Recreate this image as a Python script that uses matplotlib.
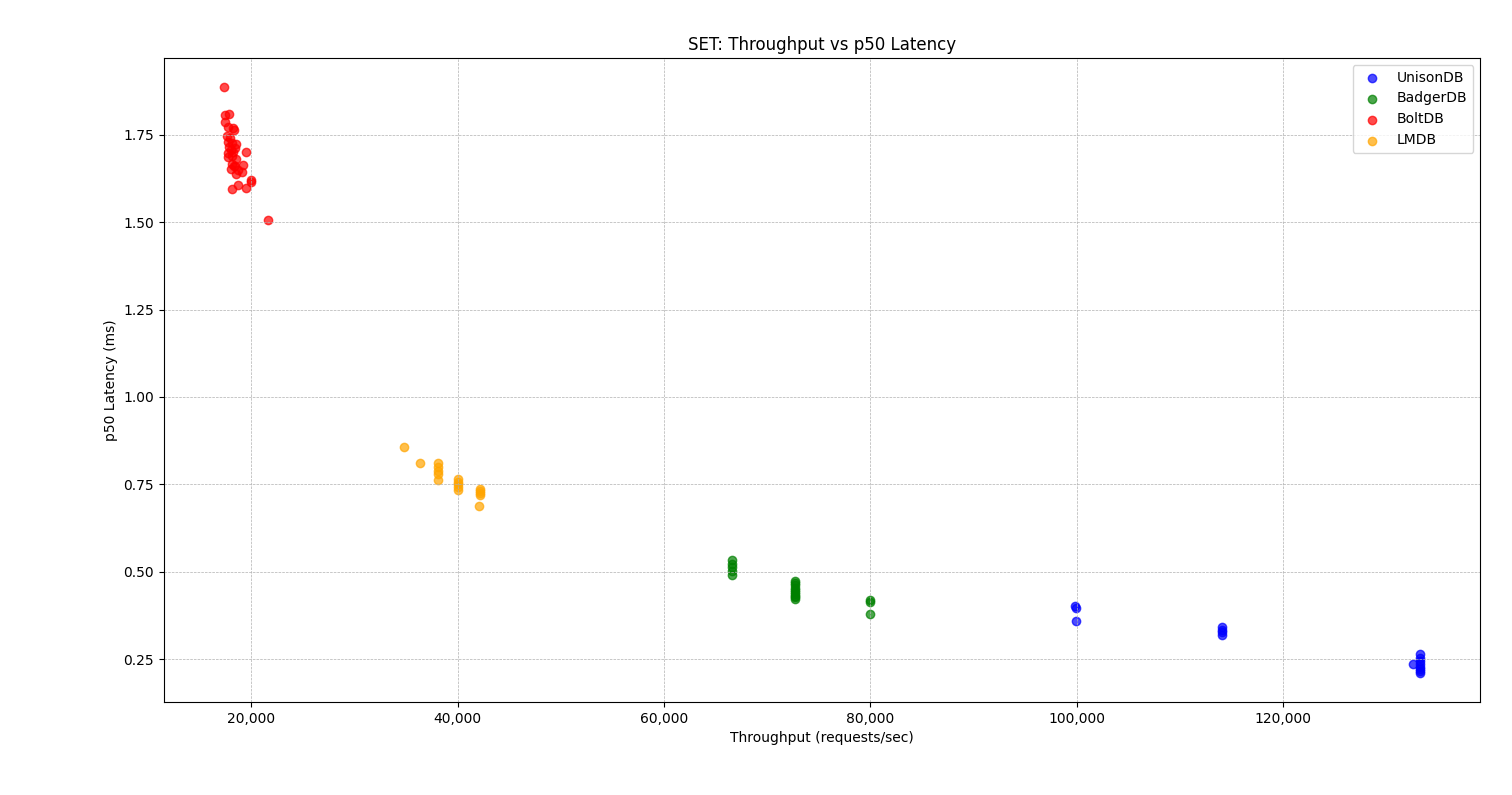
import matplotlib
matplotlib.use("Agg")
import matplotlib.pyplot as plt
from matplotlib.ticker import FuncFormatter

unison_x = [99780, 99930, 99880, 114050, 114050, 114050, 114050,
            133300, 133300, 133300, 133300, 133300, 133300, 133300, 133300, 132600]
unison_y = [0.404, 0.398, 0.359, 0.343, 0.335, 0.327, 0.320,
            0.266, 0.255, 0.245, 0.236, 0.228, 0.222, 0.217, 0.212, 0.236]

badger_x = [66580, 66580, 66580, 66580, 66580,
            72690, 72690, 72690, 72690, 72690, 72690, 72690, 72690, 72690, 72690,
            79990, 79990, 79990]
badger_y = [0.534, 0.524, 0.515, 0.502, 0.490,
            0.474, 0.468, 0.462, 0.455, 0.449, 0.443, 0.437, 0.432, 0.427, 0.423,
            0.421, 0.414, 0.381]

bolt_x = [17300, 17450, 17850, 17450, 17750, 18250, 18350, 17650, 17950, 17750,
          18150, 18550, 18450, 17850, 18050, 17750, 18250, 19450, 17750, 18150,
          18550, 18150, 18450, 19150, 18050, 18650, 19050, 18550, 18350, 19950,
          19950, 18650, 18150, 19450, 21600]
bolt_y = [1.885, 1.807, 1.810, 1.787, 1.771, 1.768, 1.764, 1.745, 1.740, 1.728,
          1.725, 1.722, 1.712, 1.715, 1.705, 1.697, 1.700, 1.700, 1.685, 1.688,
          1.680, 1.665, 1.660, 1.662, 1.652, 1.648, 1.643, 1.638, 1.660, 1.621,
          1.614, 1.607, 1.594, 1.597, 1.505]

lmdb_x = [34780, 36330, 38100, 38100, 38100, 38100, 38100,
          40030, 40030, 40030, 40030, 40030,
          42130, 42130, 42130, 42130, 42030]
lmdb_y = [0.858, 0.810, 0.812, 0.801, 0.788, 0.779, 0.764,
          0.766, 0.758, 0.750, 0.742, 0.734,
          0.736, 0.730, 0.725, 0.720, 0.689]

series = [
    ("UnisonDB", unison_x, unison_y, "blue"),
    ("BadgerDB", badger_x, badger_y, "green"),
    ("BoltDB", bolt_x, bolt_y, "red"),
    ("LMDB", lmdb_x, lmdb_y, "orange"),
]

fig, ax = plt.subplots(figsize=(15.12, 7.95), dpi=100)
fig.subplots_adjust(left=0.1083, right=0.979, top=0.927, bottom=0.117)

for name, xs, ys, c in series:
    ax.scatter(xs, ys, color=c, alpha=0.7, label=name)

ax.set_title("SET: Throughput vs p50 Latency")
ax.set_xlabel("Throughput (requests/sec)")
ax.set_ylabel("p50 Latency (ms)")
ax.xaxis.set_major_formatter(FuncFormatter(lambda v, p: f"{int(v):,}"))
ax.grid(True, linestyle="--", linewidth=0.5)
ax.legend(loc="upper right")

fig.savefig("out.png", dpi=100)
